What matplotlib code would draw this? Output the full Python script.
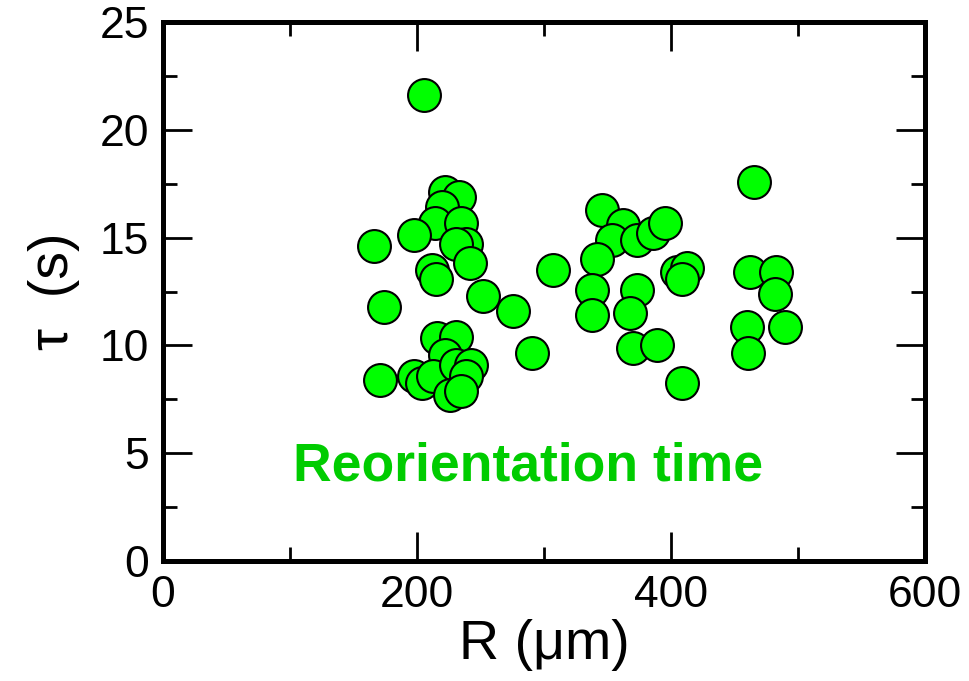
import matplotlib
matplotlib.use("Agg")
import matplotlib.pyplot as plt
from matplotlib.ticker import MultipleLocator

# radius R (um) and reorientation time tau (s)
R = [206, 222, 233, 220, 214, 235, 198, 166, 239, 231, 242, 212, 215,
     252, 276, 174, 216, 231, 222, 198, 204, 213, 171, 231, 243, 239,
     226, 235, 291,
     346, 362, 354, 373, 386, 395, 342, 307, 338, 338, 373, 368, 405,
     413, 409, 370, 389, 409,
     465, 462, 483, 482, 460, 490, 461]
tau = [21.6, 17.1, 16.9, 16.4, 15.7, 15.7, 15.1, 14.6, 14.7, 14.7, 13.8,
       13.5, 13.1, 12.3, 11.6, 11.8, 10.35, 10.4, 9.55, 8.6, 8.25, 8.6,
       8.4, 9.1, 9.1, 8.6, 7.7, 7.9, 9.65,
       16.3, 15.6, 14.9, 14.9, 15.2, 15.7, 14.0, 13.5, 12.55, 11.4, 12.55,
       11.5, 13.4, 13.6, 13.1, 9.9, 10.0, 8.25,
       17.6, 13.4, 13.4, 12.4, 10.85, 10.85, 9.65]

plt.rcParams['font.family'] = ['Liberation Sans', 'DejaVu Sans']

fig = plt.figure(figsize=(9.69, 6.81), dpi=100)
ax = fig.add_axes([0.168, 0.1762, 0.7866, 0.7915])

ax.scatter(R, tau, s=560, c='#00ff00', edgecolors='black', linewidths=1.5, zorder=3)

ax.set_xlim(0, 600)
ax.set_ylim(0, 25)
ax.xaxis.set_major_locator(MultipleLocator(200))
ax.xaxis.set_minor_locator(MultipleLocator(100))
ax.yaxis.set_major_locator(MultipleLocator(5))
ax.yaxis.set_minor_locator(MultipleLocator(2.5))

for sp in ax.spines.values():
    sp.set_linewidth(3.6)
ax.tick_params(which='both', direction='in', top=True, right=True, width=2)
ax.tick_params(which='major', length=21, labelsize=32, pad=10)
ax.tick_params(which='minor', length=10)

ax.set_xlabel('R (μm)', fontsize=40, labelpad=2)
ax.set_ylabel('τ  (s)', fontsize=40, labelpad=14)

ax.text(0.479, 0.176, 'Reorientation time', transform=ax.transAxes, ha='center',
        va='center', fontsize=38.5, fontweight='bold', color='#00cc00')

fig.savefig('out.png', dpi=100)
